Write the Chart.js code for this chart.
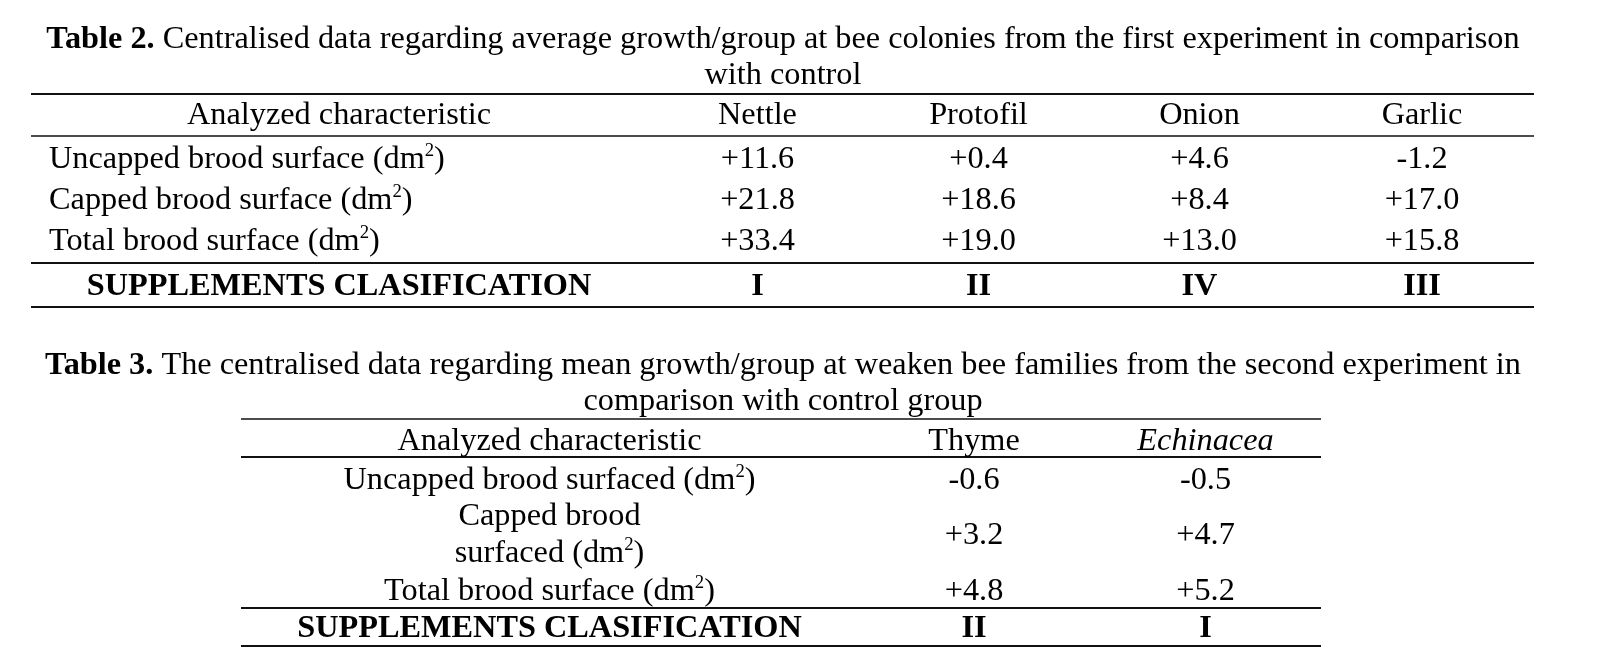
<!DOCTYPE html>
<html>
<head>
<meta charset="utf-8">
<script src="https://cdn.jsdelivr.net/npm/chart.js@4/dist/chart.umd.min.js"></script>
<style>
  html, body { margin: 0; padding: 0; background: #fff; }
  #wrap { position: relative; width: 1600px; height: 671px; }
</style>
</head>
<body>
<div id="wrap"><canvas id="tables"></canvas></div>
<script>
// Table 2: first experiment, four supplements vs control
const t2Caption  = ["Table 2.", " Centralised data regarding average growth/group at bee colonies from the first experiment in comparison", "with control"]
const t2Columns  = ["Nettle", "Protofil", "Onion", "Garlic"]
const t2Rows     = ["Uncapped brood surface (dm^2)", "Capped brood surface (dm^2)", "Total brood surface (dm^2)"]
const t2Uncapped = [11.6, 0.4, 4.6, -1.2]
const t2Capped   = [21.8, 18.6, 8.4, 17.0]
const t2Total    = [33.4, 19.0, 13.0, 15.8]
const t2Rank     = ["I", "II", "IV", "III"]

// Table 3: second experiment, weakened families
const t3Caption  = ["Table 3.", " The centralised data regarding mean growth/group at weaken bee families from the second experiment in", "comparison with control group"]
const t3Columns  = ["Thyme", "*Echinacea"]
const t3Rows     = ["Uncapped brood surfaced (dm^2)", "Capped brood\nsurfaced (dm^2)", "Total brood surface (dm^2)"]
const t3Uncapped = [-0.6, -0.5]
const t3Capped   = [3.2, 4.7]
const t3Total    = [4.8, 5.2]
const t3Rank     = ["II", "I"]

const headLabel  = "Analyzed characteristic"
const rankLabel  = "SUPPLEMENTS CLASIFICATION"

// page geometry, in the hidden linear scales' units (page pixels)
const LAYOUT = {
  t2: {
    edges: [31, 647, 868, 1089, 1310, 1534],
    titleLines: [48, 84],
    header: 124,
    rows: [[168], [209], [250]],
    rank: 295,
    rules: [[94, 2], [136, 1.5], [263, 2], [307, 2]],
    labelAlign: "left", labelInset: 18
  },
  t3: {
    edges: [241, 858, 1090, 1321],
    titleLines: [374, 410],
    header: 450,
    rows: [[489], [525, 562], [600]],
    rank: 637,
    rules: [[419, 1.5], [457, 2], [608, 2], [646, 2]],
    labelAlign: "center", labelInset: 0
  },
  titleCenter: 783
}

const FONT  = '"Liberation Serif", "Times New Roman", serif'
const SIZE  = 32.3
const INK   = "#000"

const signed = (v) => (v > 0 ? "+" : "") + v.toFixed(1)

const TABLES = [
  { caption: t2Caption, columns: t2Columns, rows: t2Rows, values: [t2Uncapped, t2Capped, t2Total], rank: t2Rank, lay: LAYOUT.t2 },
  { caption: t3Caption, columns: t3Columns, rows: t3Rows, values: [t3Uncapped, t3Capped, t3Total], rank: t3Rank, lay: LAYOUT.t3 },
]

// "abc^2)" -> segments, a leading "*" means italic
function parse(text, bold) {
  let italic = false
  if (text.startsWith("*")) { italic = true; text = text.slice(1) }
  const segs = []
  text.split(/(\^\d)/).forEach(part => {
    if (!part) return
    if (part.startsWith("^")) segs.push({ text: part.slice(1), bold, italic, sup: true })
    else segs.push({ text: part, bold, italic, sup: false })
  })
  return segs
}

function fontOf(s) {
  const size = s.sup ? SIZE * 0.58 : SIZE
  return `${s.italic ? "italic " : ""}${s.bold ? "bold " : ""}${size}px ${FONT}`
}

function drawSegs(ctx, segs, px, py, align) {
  let width = 0
  segs.forEach(s => { ctx.font = fontOf(s); s.w = ctx.measureText(s.text).width; width += s.w })
  let cx = align === "left" ? px : px - width / 2
  segs.forEach(s => {
    ctx.font = fontOf(s)
    ctx.fillText(s.text, cx, s.sup ? py - SIZE * 0.38 : py)
    cx += s.w
  })
}

function drawTable(ctx, x, y, t) {
  const L = t.lay
  const px = (v) => x.getPixelForValue(v)
  const py = (v) => y.getPixelForValue(v)
  const mid = (i) => px((L.edges[i] + L.edges[i + 1]) / 2)

  ctx.fillStyle = INK
  ctx.textBaseline = "alphabetic"

  // caption: bold label + plain text, second line centred
  drawSegs(ctx, [{ text: t.caption[0], bold: true }, { text: t.caption[1] }], px(LAYOUT.titleCenter), py(L.titleLines[0]), "center")
  drawSegs(ctx, [{ text: t.caption[2] }], px(LAYOUT.titleCenter), py(L.titleLines[1]), "center")

  // rules
  ctx.strokeStyle = "#111"
  L.rules.forEach(([ry, w]) => {
    ctx.lineWidth = w
    ctx.beginPath()
    ctx.moveTo(px(L.edges[0]), py(ry))
    ctx.lineTo(px(L.edges[L.edges.length - 1]), py(ry))
    ctx.stroke()
  })

  // header
  drawSegs(ctx, parse(headLabel), mid(0), py(L.header), "center")
  t.columns.forEach((c, i) => drawSegs(ctx, parse(c), mid(i + 1), py(L.header), "center"))

  // body rows
  t.rows.forEach((label, r) => {
    const lines = label.split("\n")
    const ys = L.rows[r]
    lines.forEach((ln, k) => {
      const lx = L.labelAlign === "left" ? px(L.edges[0] + L.labelInset) : mid(0)
      drawSegs(ctx, parse(ln), lx, py(ys[k]), L.labelAlign)
    })
    const vy = ys.reduce((a, b) => a + b, 0) / ys.length
    t.values[r].forEach((v, i) => drawSegs(ctx, parse(signed(v)), mid(i + 1), py(vy), "center"))
  })

  // classification row
  drawSegs(ctx, parse(rankLabel, true), mid(0), py(L.rank), "center")
  t.rank.forEach((k, i) => drawSegs(ctx, parse(k, true), mid(i + 1), py(L.rank), "center"))
}

const tablePlugin = {
  id: "tableText",
  afterDraw(chart) {
    const { ctx, scales: { x, y } } = chart
    ctx.save()
    TABLES.forEach(t => drawTable(ctx, x, y, t))
    ctx.restore()
  }
}

new Chart(document.getElementById("tables"), {
  type: "scatter",
  data: { datasets: [] },
  options: {
    responsive: true,
    maintainAspectRatio: false,
    animation: false,
    layout: { padding: 0 },
    plugins: { legend: { display: false }, tooltip: { enabled: false } },
    scales: {
      x: { type: "linear", min: 0, max: 1600, display: false },
      y: { type: "linear", min: 0, max: 671, reverse: true, display: false }
    }
  },
  plugins: [tablePlugin]
})
</script>
</body>
</html>
